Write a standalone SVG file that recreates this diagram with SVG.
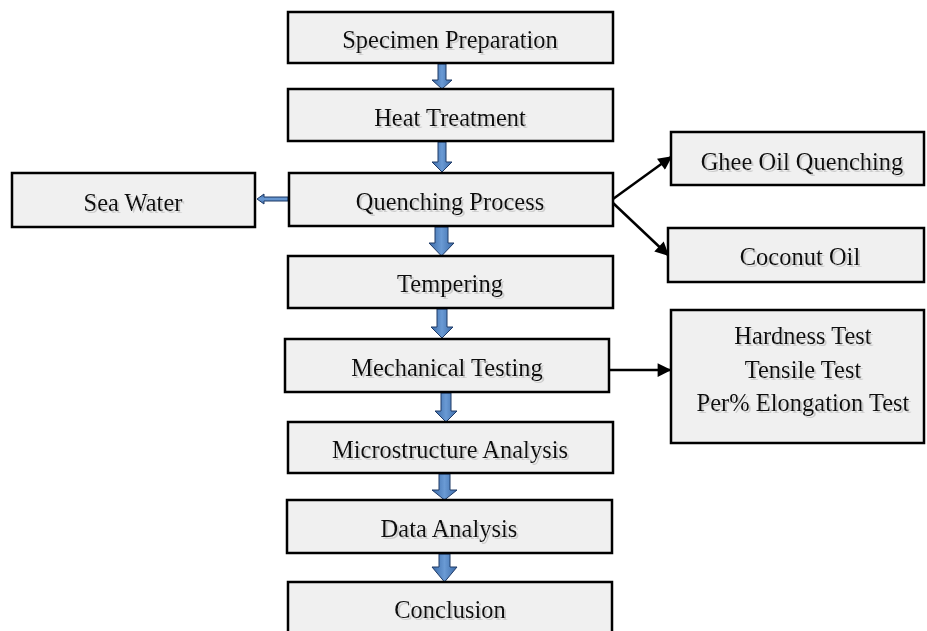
<svg xmlns="http://www.w3.org/2000/svg" width="927" height="631" viewBox="0 0 927 631">
<defs>
<linearGradient id="bg" x1="0" y1="0" x2="1" y2="0">
<stop offset="0" stop-color="#3a6aa8"/><stop offset="0.5" stop-color="#6a9ad4"/><stop offset="1" stop-color="#3a6aa8"/>
</linearGradient>
<linearGradient id="bgh" x1="0" y1="0" x2="0" y2="1">
<stop offset="0" stop-color="#3a6aa8"/><stop offset="0.5" stop-color="#6a9ad4"/><stop offset="1" stop-color="#3a6aa8"/>
</linearGradient>
<filter id="sh" x="-5%" y="-20%" width="110%" height="140%">
<feOffset in="SourceAlpha" dx="1.5" dy="1.5" result="o"/>
<feColorMatrix in="o" type="matrix" values="0 0 0 0 0.55 0 0 0 0 0.55 0 0 0 0 0.55 0 0 0 0.8 0" result="g"/>
<feMerge><feMergeNode in="g"/><feMergeNode in="SourceGraphic"/></feMerge>
</filter>
<marker id="ah" viewBox="0 0 10 10" refX="9" refY="5" markerWidth="6" markerHeight="5.5" orient="auto" markerUnits="strokeWidth">
<path d="M0,0 L10,5 L0,10 z" fill="#000"/>
</marker>
</defs>
<style>
.box{fill:#f0f0f0;stroke:#000;stroke-width:2.5}
.t{font-family:"Liberation Serif","Times New Roman",serif;font-size:24.5px;fill:#111;text-anchor:middle;filter:url(#sh)}
.ba{fill:url(#bg);stroke:#1f3a66;stroke-width:1}
.bh{fill:url(#bgh);stroke:#1f3a66;stroke-width:1}
.ln{stroke:#000;stroke-width:2.5;fill:none;marker-end:url(#ah)}
</style>
<rect width="927" height="631" fill="#fff"/>
<g id="connectors">
<polygon class="ba" points="438,64 446,64 446,80 452,80 442,89 432,80 438,80"/>
<polygon class="ba" points="438,142 446,142 446,162 452,162 442,172 432,162 438,162"/>
<polygon class="bh" points="288,197 264,197 264,194 257,199 264,204 264,201 288,201"/>
<polygon class="ba" points="435,227 448,227 448,243 454,243 441.5,256 429,243 435,243"/>
<polygon class="ba" points="437,309 447,309 447,327 453,327 442,338 431,327 437,327"/>
<polygon class="ba" points="441,393 451,393 451,411 457,411 446,422 435,411 441,411"/>
<polygon class="ba" points="439,474 450,474 450,490 457,490 444.5,500 432,490 439,490"/>
<polygon class="ba" points="439,554 450,554 450,567 457,567 444.5,582 432,567 439,567"/>
<line class="ln" x1="613" y1="199" x2="671" y2="157"/>
<line class="ln" x1="613" y1="203" x2="668" y2="255"/>
<line class="ln" x1="609" y1="370" x2="670" y2="370"/>
</g>
<g id="specimen"><rect class="box" x="288" y="12" width="325" height="51"/><text class="t" x="450" y="48">Specimen Preparation</text></g>
<g id="heat"><rect class="box" x="288" y="89" width="325" height="52"/><text class="t" x="450" y="126">Heat Treatment</text></g>
<g id="quench"><rect class="box" x="289" y="173" width="324" height="53"/><text class="t" x="450" y="210">Quenching Process</text></g>
<g id="seawater"><rect class="box" x="12" y="173" width="243" height="54"/><text class="t" x="133" y="211">Sea Water</text></g>
<g id="ghee"><rect class="box" x="671" y="132" width="253" height="53"/><text class="t" x="802" y="170">Ghee Oil Quenching</text></g>
<g id="coconut"><rect class="box" x="668" y="228" width="256" height="54"/><text class="t" x="800" y="265">Coconut Oil</text></g>
<g id="tempering"><rect class="box" x="288" y="256" width="325" height="52"/><text class="t" x="450" y="292">Tempering</text></g>
<g id="mechanical"><rect class="box" x="285" y="339" width="324" height="53"/><text class="t" x="447" y="376">Mechanical Testing</text></g>
<g id="tests"><rect class="box" x="671" y="310" width="253" height="133"/>
<text class="t" x="803" y="344">Hardness Test</text>
<text class="t" x="803" y="378">Tensile Test</text>
<text class="t" x="803" y="411">Per% Elongation Test</text></g>
<g id="microstructure"><rect class="box" x="288" y="422" width="325" height="51"/><text class="t" x="450" y="458">Microstructure Analysis</text></g>
<g id="data"><rect class="box" x="287" y="500" width="325" height="53"/><text class="t" x="449" y="537">Data Analysis</text></g>
<g id="conclusion"><rect class="box" x="288" y="582" width="324" height="60"/><text class="t" x="450" y="618">Conclusion</text></g>
</svg>
